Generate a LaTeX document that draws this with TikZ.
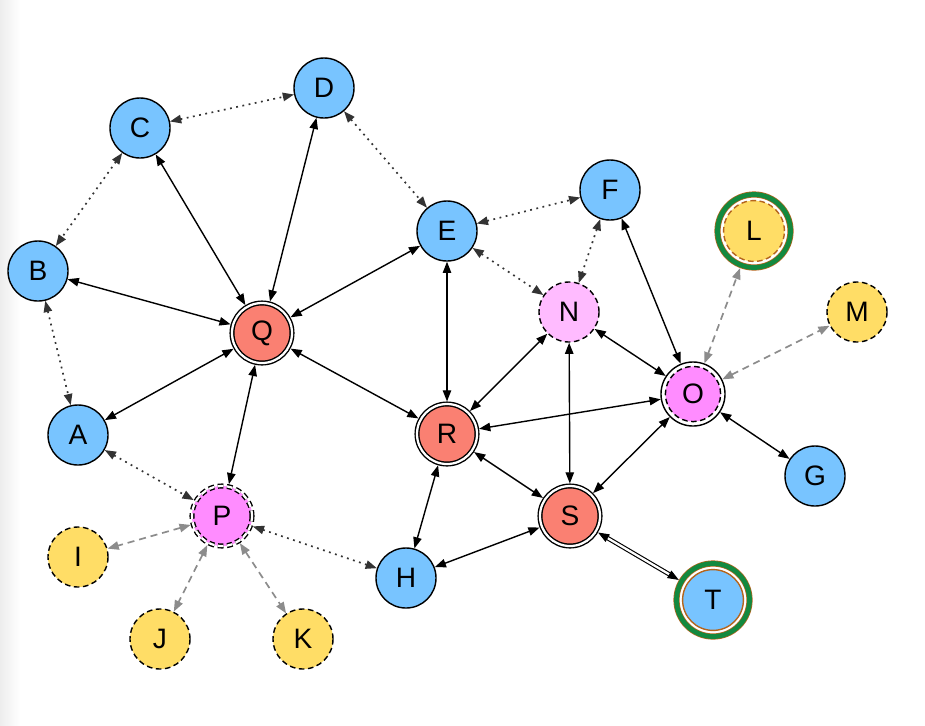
\documentclass[tikz,border=0pt]{standalone}
\usepackage{fontspec}
\setmainfont{Liberation Sans}
\usetikzlibrary{arrows.meta}
\definecolor{skyblue}{HTML}{78C4FF}
\definecolor{salmon}{HTML}{FA8072}
\definecolor{violet}{HTML}{FF8CFF}
\definecolor{lightpink}{HTML}{FFBBFF}
\definecolor{gold}{HTML}{FFDD66}
\definecolor{ringgreen}{HTML}{13893F}
\definecolor{ringbrown}{HTML}{B5651D}
\begin{document}
\begin{tikzpicture}[x=0.025cm,y=-0.025cm,>={Triangle[length=2.8mm,width=2.1mm]}]

\tikzstyle{vertex}=[circle,draw,line width=1pt,minimum size=1.5cm,inner sep=0pt,font=\fontsize{20}{20}\selectfont]
\tikzstyle{plain vertex}=[vertex,fill=skyblue]
\tikzstyle{hub vertex}=[vertex,fill=salmon,double=white,double distance=1.6pt,outer sep=1.8pt]
\tikzstyle{open vertex}=[vertex,fill=lightpink,dash pattern=on 4pt off 2.5pt]
\tikzstyle{bridge vertex}=[vertex,fill=violet,double=white,double distance=1.6pt,outer sep=1.8pt,dash pattern=on 4pt off 2.5pt]
\tikzstyle{portal vertex}=[vertex,fill=white,minimum size=1.6cm,path picture={\draw[line width=1pt,dash pattern=on 4pt off 2.5pt,fill=violet](path picture bounding box.center)circle(0.69cm);}]
\tikzstyle{leaf vertex}=[vertex,fill=gold,dash pattern=on 4pt off 2.5pt]
\tikzset{goal vertex/.style={vertex,fill=white,draw=ringbrown,line width=0.5pt,double=ringgreen,double distance=3.4pt,outer sep=2.2pt,minimum size=1.825cm,path picture={\draw[line width=1pt,#1](path picture bounding box.center)circle(0.76cm);}}}
\tikzstyle{edge}=[<->,line width=1pt]
\tikzstyle{link}=[edge,black!80,line width=1.2pt,dash pattern=on 1.3pt off 3.2pt]
\tikzstyle{weak}=[edge,black!45,line width=1.2pt,dash pattern=on 5pt off 3.5pt]
\tikzstyle{bond}=[edge,line width=0.8pt,double=white,double distance=1.6pt]

\fill[white](0,0)rectangle(925,725);
\shade[left color=black!7,right color=white](0,0)rectangle(20,725);

\node[plain vertex](C)at(140,128){C};
\node[plain vertex](D)at(324,88){D};
\node[plain vertex](B)at(38,271){B};
\node[hub vertex](Q)at(262,333){Q};
\node[plain vertex](E)at(447,231){E};
\node[plain vertex](F)at(610,190){F};
\node[goal vertex={dash pattern=on 4pt off 2.5pt,fill=gold}](L)at(754,231){L};
\node[open vertex](N)at(569,312){N};
\node[leaf vertex](M)at(857,312){M};
\node[plain vertex](A)at(78,435){A};
\node[portal vertex](O)at(693,394){O};
\node[hub vertex](R)at(447,434){R};
\node[plain vertex](G)at(815,476){G};
\node[bridge vertex](P)at(222,516){P};
\node[leaf vertex](I)at(78,557){I};
\node[hub vertex](S)at(570,516){S};
\node[plain vertex](H)at(406,578){H};
\node[goal vertex={fill=skyblue}](T)at(713,600){T};
\node[leaf vertex](J)at(160,639){J};
\node[leaf vertex](K)at(303,639){K};

\draw[link](C)--(D);
\draw[link](C)--(B);
\draw[link](D)--(E);
\draw[link](B)--(A);
\draw[link](E)--(F);
\draw[link](E)--(N);
\draw[link](F)--(N);
\draw[link](A)--(P);
\draw[link](P)--(H);

\draw[edge](Q)--(C);
\draw[edge](Q)--(D);
\draw[edge](Q)--(B);
\draw[edge](Q)--(A);
\draw[edge](Q)--(E);
\draw[edge](Q)--(R);
\draw[edge](Q)--(P);
\draw[edge](E)--(R);
\draw[edge](R)--(N);
\draw[edge](R)--(O);
\draw[edge](R)--(S);
\draw[edge](R)--(H);
\draw[edge](N)--(S);
\draw[edge](N)--(O);
\draw[edge](F)--(O);
\draw[edge](O)--(S);
\draw[edge](O)--(G);
\draw[edge](H)--(S);
\draw[bond](S)--(T);

\draw[weak](O)--(L);
\draw[weak](O)--(M);
\draw[weak](P)--(I);
\draw[weak](P)--(J);
\draw[weak](P)--(K);

\useasboundingbox(0,0)rectangle(925,725);
\end{tikzpicture}
\end{document}
